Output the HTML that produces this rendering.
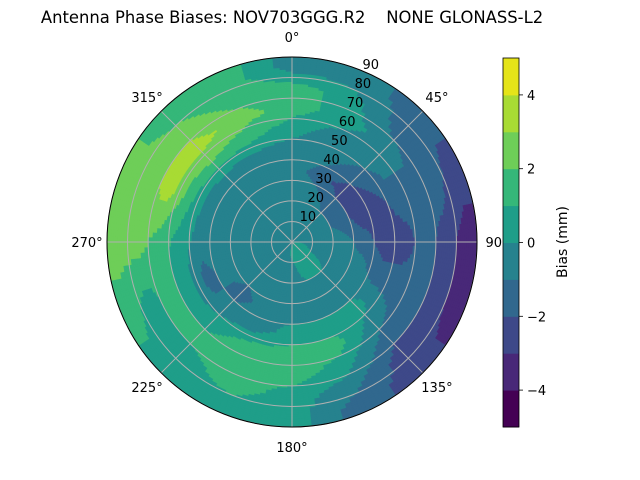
<!DOCTYPE html>
<html><head><meta charset="utf-8"><style>
body{margin:0;background:#fff}
svg{display:block;font-family:"DejaVu Sans","Liberation Sans",sans-serif}
</style></head><body>
<svg id="chart" width="640" height="480" viewBox="0 0 640 480">
<rect width="640" height="480" fill="#fff"/>
<text x="292" y="23" font-size="16.4" text-anchor="middle" xml:space="preserve">Antenna Phase Biases: NOV703GGG.R2    NONE GLONASS-L2</text>
<g id="cells"></g>
<g id="grid"></g>
<circle cx="292" cy="242" r="185" fill="none" stroke="#000" stroke-width="1"/>
<g id="labels"></g>
<g id="cbar"></g>
<text transform="translate(567,242) rotate(-90)" font-size="14" text-anchor="middle">Bias (mm)</text>
</svg>
<script>
const azimuths=[0,22.5,45,67.5,90,112.5,135,157.5,180,202.5,225,247.5,270,292.5,315,337.5];
const zenithBins=[0,10,20,30,40,50,60,70,80];
const biasAz0=[-0.3,-0.5,-0.5,-0.5,-0.5,0.4,1.5,1.5,-0.5];
const biasAz22=[-0.3,-0.5,-0.5,-1.5,-0.5,-0.5,0.5,0.5,-0.5];
const biasAz45=[-0.3,-0.5,-1.5,-2.5,-1.5,-0.5,-0.5,-1.5,-1.5];
const biasAz67=[-0.3,-0.5,-1.5,-2.5,-2.5,-1.5,-1.5,-1.5,-2.5];
const biasAz90=[-0.2,-0.5,-0.5,-1.5,-2.5,-2.5,-1.5,-2.5,-3.5];
const biasAz112=[0.3,-0.5,-0.5,-0.5,-1.5,-1.5,-1.5,-2.5,-3.5];
const biasAz135=[0.5,0.5,-0.5,-0.5,0.5,-0.5,-1.5,-2.5,-2.5];
const biasAz157=[0.5,0.5,-0.5,-0.5,0.5,1.5,0.5,-0.5,-1.5];
const biasAz180=[0.3,-0.5,-0.5,-0.5,0.5,1.5,1.5,0.5,0.5];
const biasAz202=[-0.2,-0.5,-0.5,-0.5,-0.5,1.5,1.5,1.5,0.5];
const biasAz225=[-0.3,-0.5,-0.5,-1.5,-0.5,0.5,1.5,0.5,0.5];
const biasAz247=[-0.3,-0.5,-0.5,-0.5,-1.5,0.5,1.5,0.5,1.5];
const biasAz270=[-0.3,-0.5,-0.5,-0.5,-0.5,0.6,1.5,2.5,2.5];
const biasAz292=[-0.3,-0.5,-0.5,-0.5,-0.4,1.5,3.5,2.5,2.5];
const biasAz315=[-0.3,-0.5,-0.5,-0.5,-0.3,2.0,3.5,2.5,1.5];
const biasAz337=[-0.3,-0.5,-0.5,-0.5,-0.4,1.5,2.5,1.5,1.5];
const biasGrid=[biasAz0,biasAz22,biasAz45,biasAz67,biasAz90,biasAz112,biasAz135,biasAz157,biasAz180,biasAz202,biasAz225,biasAz247,biasAz270,biasAz292,biasAz315,biasAz337];
const levels=[-5,-4,-3,-2,-1,0,1,2,3,4,5];
const cbarTicks=[4,2,0,-2,-4];
const ringLabels=[10,20,30,40,50,60,70,80,90];
const angleLabels=[0,45,90,135,180,225,270,315];

const NS="http://www.w3.org/2000/svg";
const CX=292,CY=242,R=185,ZMAX=90;
const colors=["#440154","#482878","#3e4989","#31688e","#26828e","#1f9e89","#35b779","#6ece58","#a8db34","#e5e419"];
function rScale(z){return z/ZMAX*R;}
function pt(az,z){const a=az*Math.PI/180,r=rScale(z);return [CX+r*Math.sin(a),CY-r*Math.cos(a)];}
function band(v){for(let i=0;i<levels.length-1;i++){if(v<levels[i+1])return i;}return levels.length-2;}
function mk(tag,attrs,parent){const e=document.createElementNS(NS,tag);for(const k in attrs)e.setAttribute(k,attrs[k]);parent.appendChild(e);return e;}
const nA=azimuths.length,dAzG=360/nA,nZ=zenithBins.length;
function sample(az,z){
  let fa=((az%360)+360)%360/dAzG; const i0=Math.floor(fa)%nA,i1=(i0+1)%nA,ta=fa-Math.floor(fa);
  let fz=(z-5)/10; fz=Math.max(0,Math.min(nZ-1,fz)); const j0=Math.floor(fz),j1=Math.min(nZ-1,j0+1),tz=fz-j0;
  const a=biasGrid[i0][j0]*(1-tz)+biasGrid[i0][j1]*tz;
  const b=biasGrid[i1][j0]*(1-tz)+biasGrid[i1][j1]*tz;
  return a*(1-ta)+b*ta;
}
const cells=document.getElementById('cells');
const SA=2,SZ=1;
for(let az=0;az<360;az+=SA){
  for(let z=0;z<ZMAX;z+=SZ){
    const z1=z+SZ,a0=az,a1=az+SA;
    const p0=pt(a0,z),p1=pt(a1,z),p2=pt(a1,z1),p3=pt(a0,z1);
    const d=`M${p0[0].toFixed(2)},${p0[1].toFixed(2)}L${p1[0].toFixed(2)},${p1[1].toFixed(2)}L${p2[0].toFixed(2)},${p2[1].toFixed(2)}L${p3[0].toFixed(2)},${p3[1].toFixed(2)}Z`;
    const c=colors[band(sample(az+SA/2,z+SZ/2))];
    const el=mk('path',{d:d,fill:c,stroke:c,'stroke-width':0.6},cells);
    
    
  }
}

const grid=document.getElementById('grid');
ringLabels.forEach(z=>{
  const el=mk('circle',{cx:CX,cy:CY,r:rScale(z),fill:'none',stroke:'#b0b0b0','stroke-width':1},grid);
  
  
});
angleLabels.forEach(a=>{
  const p=pt(a,ZMAX);
  const el=mk('line',{x1:CX,y1:CY,x2:p[0],y2:p[1],stroke:'#b0b0b0','stroke-width':1},grid);
  
  
});

const labels=document.getElementById('labels');
angleLabels.forEach(a=>{
  const rad=a*Math.PI/180,r=R+20;
  const x=CX+r*Math.sin(rad),y=CY-r*Math.cos(rad)+5;
  const t=mk('text',{x:x,y:y,'font-size':13,'text-anchor':'middle'},labels);
  t.textContent=a+'°';
  
  
});
ringLabels.forEach(z=>{
  const p=pt(22.5,z);
  const t=mk('text',{x:p[0]+8,y:p[1]-2,'font-size':13,'text-anchor':'middle'},labels);
  t.textContent=z;
  
  
});

const cbar=document.getElementById('cbar');
const CB_X=503,CB_W=16,CB_TOP=58,CB_BOT=427;
function cbY(v){return CB_BOT-(v-levels[0])/(levels[levels.length-1]-levels[0])*(CB_BOT-CB_TOP);}
for(let i=0;i<levels.length-1;i++){
  const y1=cbY(levels[i+1]),y0=cbY(levels[i]);
  const el=mk('rect',{x:CB_X,y:y1,width:CB_W,height:y0-y1+0.5,fill:colors[i]},cbar);
  
  
}
const fr=mk('rect',{x:CB_X,y:CB_TOP,width:CB_W,height:CB_BOT-CB_TOP,fill:'none',stroke:'#000','stroke-width':0.8},cbar);


cbarTicks.forEach(v=>{
  const y=cbY(v);
  const tk=mk('line',{x1:CB_X+CB_W,y1:y,x2:CB_X+CB_W+4,y2:y,stroke:'#000','stroke-width':0.8},cbar);
  
  
  const t=mk('text',{x:CB_X+CB_W+8,y:y+5,'font-size':13},cbar);
  t.textContent=v<0?'\u2212'+Math.abs(v):String(v);
  
  
});
</script>
</body></html>
